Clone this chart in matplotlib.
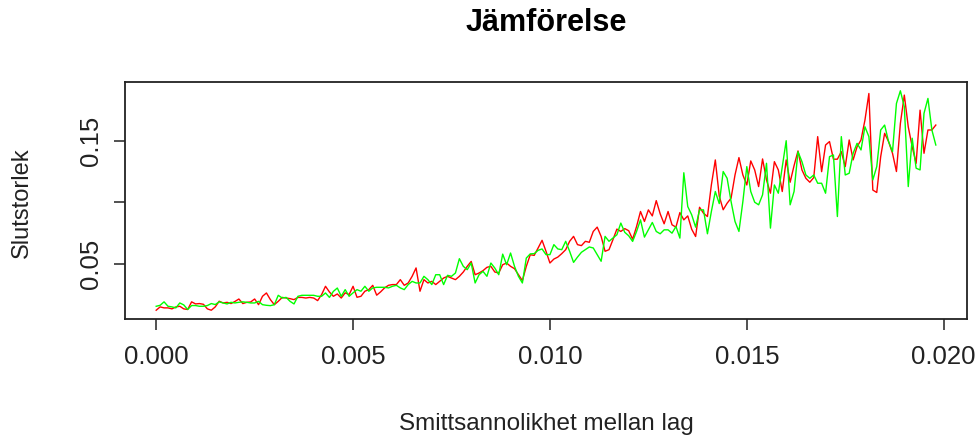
import numpy as np
import matplotlib
matplotlib.use("Agg")
import matplotlib.pyplot as plt

plt.rcParams['font.family'] = ['Liberation Sans', 'DejaVu Sans']

title = "Jämförelse"
xlabel = "Smittsannolikhet mellan lag"
ylabel = "Slutstorlek"

x_values = np.round(np.arange(199) * 0.0001, 4)

red_values = [
    0.0125, 0.0152, 0.0144, 0.0144, 0.0136, 0.0152, 0.0157, 0.0136, 0.0131, 0.0193, 0.0176, 0.0179,
    0.0173, 0.0136, 0.0125, 0.0152, 0.0198, 0.0184, 0.0189, 0.0179, 0.0196, 0.0216, 0.0179, 0.0189,
    0.0192, 0.0216, 0.0170, 0.0238, 0.0265, 0.0211, 0.0170, 0.0197, 0.0229, 0.0224, 0.0219, 0.0211,
    0.0229, 0.0229, 0.0224, 0.0229, 0.0224, 0.0203, 0.0251, 0.0319, 0.0273, 0.0238, 0.0257, 0.0224,
    0.0266, 0.0252, 0.0319, 0.0230, 0.0238, 0.0279, 0.0292, 0.0327, 0.0247, 0.0274, 0.0306, 0.0327,
    0.0333, 0.0333, 0.0373, 0.0327, 0.0346, 0.0400, 0.0468, 0.0279, 0.0373, 0.0346, 0.0359, 0.0333,
    0.0359, 0.0386, 0.0400, 0.0386, 0.0373, 0.0400, 0.0435, 0.0481, 0.0521, 0.0413, 0.0427, 0.0446,
    0.0473, 0.0481, 0.0435, 0.0427, 0.0494, 0.0508, 0.0481, 0.0462, 0.0413, 0.0365, 0.0481,
    0.0575, 0.0570, 0.0630, 0.0692, 0.0603, 0.0508, 0.0540, 0.0556, 0.0584, 0.0616, 0.0684, 0.0724,
    0.0657, 0.0649, 0.0684, 0.0676, 0.0764, 0.0799, 0.0724, 0.0603, 0.0616, 0.0697, 0.0783, 0.0764,
    0.0787, 0.0770,
    0.0701, 0.0804, 0.0926, 0.0845, 0.0939, 0.0890, 0.1014, 0.0907, 0.0826, 0.0926, 0.0818, 0.0799,
    0.0917, 0.0858, 0.0890, 0.0782, 0.0723, 0.0960, 0.0912, 0.0885, 0.1142, 0.1344,
    0.1050,
    0.0940, 0.0993, 0.1034, 0.1222, 0.1363, 0.1222, 0.1141, 0.1336, 0.1263, 0.1128, 0.1352, 0.1182,
    0.1074, 0.1330, 0.1263, 0.1088, 0.1344, 0.1163, 0.1298, 0.1417, 0.1263, 0.1195, 0.1163, 0.1201,
    0.1533, 0.1249,
    0.1465, 0.1493, 0.1350, 0.1350, 0.1411, 0.1290, 0.1506, 0.1344, 0.1451, 0.1506, 0.1667, 0.1883,
    0.1100, 0.1080, 0.1371, 0.1560, 0.1493, 0.1398, 0.1250, 0.1640, 0.1870, 0.1613, 0.1451, 0.1317,
    0.1748, 0.1398, 0.1587, 0.1587, 0.1627,
]

green_values = [
    0.0157, 0.0165, 0.0193, 0.0157, 0.0152, 0.0144, 0.0184, 0.0168, 0.0131, 0.0163, 0.0163, 0.0157,
    0.0157, 0.0163, 0.0179, 0.0171, 0.0193, 0.0184, 0.0176, 0.0189, 0.0184, 0.0189, 0.0193, 0.0189,
    0.0184, 0.0184, 0.0197, 0.0170, 0.0165, 0.0162, 0.0170, 0.0246, 0.0224, 0.0229, 0.0197, 0.0176,
    0.0238, 0.0246, 0.0246, 0.0246, 0.0246, 0.0238, 0.0238, 0.0265, 0.0229, 0.0278, 0.0305, 0.0238,
    0.0292, 0.0238, 0.0266, 0.0292, 0.0279, 0.0319, 0.0279, 0.0306, 0.0311, 0.0311, 0.0311, 0.0306,
    0.0319, 0.0327, 0.0306, 0.0292, 0.0333, 0.0359, 0.0346, 0.0346, 0.0400, 0.0373, 0.0333, 0.0413,
    0.0413, 0.0333, 0.0408, 0.0400, 0.0427, 0.0543, 0.0481, 0.0454, 0.0508, 0.0346, 0.0413, 0.0440,
    0.0400, 0.0508, 0.0467, 0.0413, 0.0580, 0.0494, 0.0589, 0.0481, 0.0400, 0.0346, 0.0548,
    0.0582, 0.0584, 0.0611, 0.0622, 0.0576, 0.0576, 0.0657, 0.0622, 0.0616, 0.0684, 0.0603, 0.0513,
    0.0556, 0.0595, 0.0616, 0.0638, 0.0630, 0.0576, 0.0522, 0.0724, 0.0684, 0.0711, 0.0737, 0.0832,
    0.0757, 0.0729,
    0.0683, 0.0764, 0.0858, 0.0718, 0.0777, 0.0837, 0.0764, 0.0745, 0.0777, 0.0777, 0.0750, 0.0804,
    0.0710, 0.1240, 0.0966, 0.0899, 0.0799, 0.0939, 0.0939, 0.0745, 0.0926, 0.1088,
    0.0990,
    0.1250, 0.1195, 0.1007, 0.0845, 0.0764, 0.1007, 0.1290, 0.1088, 0.1001, 0.0980, 0.1061, 0.1317,
    0.0791, 0.1141, 0.1074, 0.1290, 0.1500, 0.0980, 0.1088, 0.1411, 0.1330, 0.1222, 0.1195, 0.1222,
    0.1155, 0.1155,
    0.1074, 0.1371, 0.1384, 0.0885, 0.1533, 0.1222, 0.1236, 0.1398, 0.1479, 0.1425, 0.1613, 0.1533,
    0.1182, 0.1290, 0.1587, 0.1627, 0.1493, 0.1411, 0.1802, 0.1905, 0.1775, 0.1128, 0.1520, 0.1277,
    0.1263, 0.1722, 0.1843, 0.1587, 0.1465,
]

x_ticks = [0.000, 0.005, 0.010, 0.015, 0.020]
x_ticklabels = ["0.000", "0.005", "0.010", "0.015", "0.020"]
y_ticks = [0.05, 0.10, 0.15]
y_ticklabels = ["0.05", "", "0.15"]

W, H = 979, 443
fig = plt.figure(figsize=(W / 100, H / 100), dpi=100)
left, right, top, bottom = 125, 967, 82, 319
ax = fig.add_axes([left / W, 1 - bottom / H, (right - left) / W, (bottom - top) / H])

ax.plot(x_values, red_values, color="#FF0000", linewidth=1.0)
ax.plot(x_values, green_values, color="#00FF00", linewidth=1.0)

ax.margins(x=0.04, y=0.04)
ax.set_xticks(x_ticks)
ax.set_xticklabels(x_ticklabels)
ax.set_yticks(y_ticks)
ax.set_yticklabels(y_ticklabels, rotation=90, va="center")

for s in ax.spines.values():
    s.set_linewidth(1.3)
    s.set_color("#222222")

ax.tick_params(axis="both", direction="out", length=8, width=1.1, color="#222222",
               labelsize=18.5, labelcolor="#222222")
ax.tick_params(axis="x", pad=11)
ax.tick_params(axis="y", pad=8)

fig.text(546 / W, 1 - 23 / H, title, ha="center", va="center", fontsize=22,
         fontweight="bold", color="black")
fig.text(546 / W, 1 - 424 / H, xlabel, ha="center", va="center", fontsize=17.5, color="#222222")
fig.text(22 / W, 1 - 203 / H, ylabel, ha="center", va="center", fontsize=17,
         rotation=90, color="#222222")

fig.savefig("out.png", dpi=100)
